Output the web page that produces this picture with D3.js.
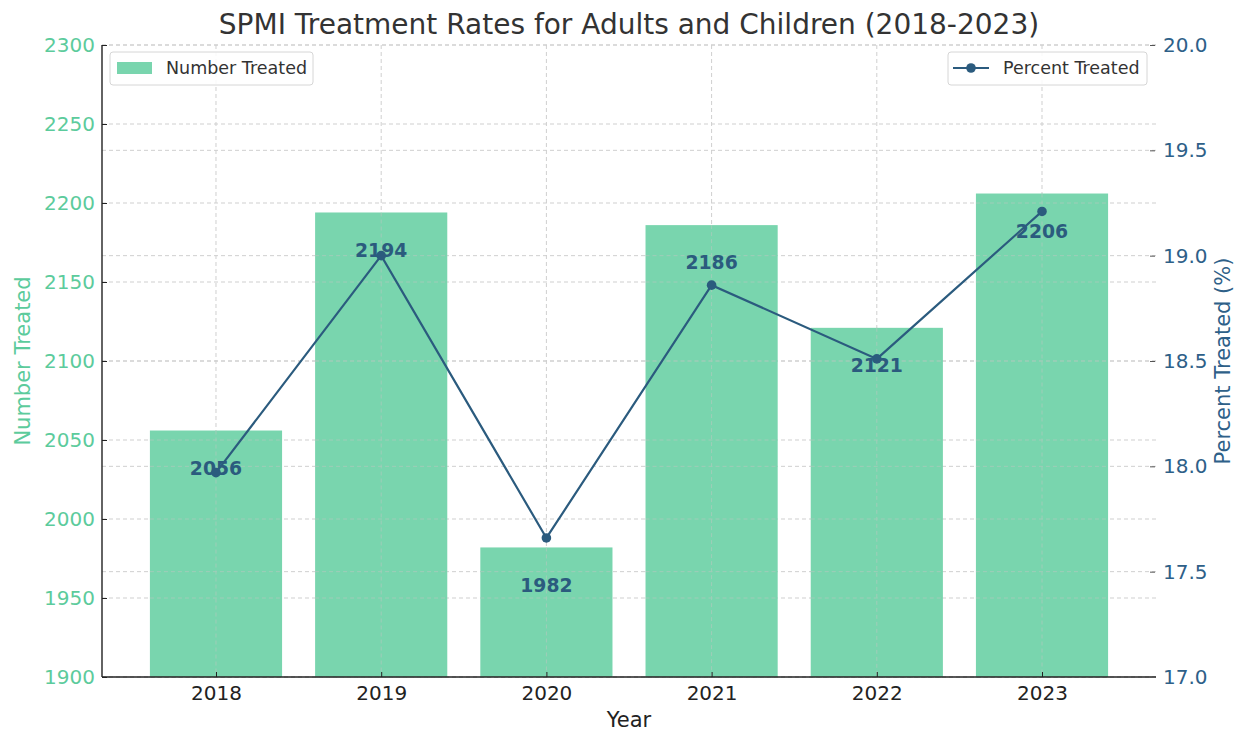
<!DOCTYPE html>
<html>
<head>
<meta charset="utf-8">
<script src="https://cdn.jsdelivr.net/npm/d3@7"></script>
<style>
  body { margin: 0; background: #fff; }
  svg { font-family: "DejaVu Sans", sans-serif; }
</style>
</head>
<body>
<svg id="chart" width="1241" height="732"></svg>
<script>
// Yearly SPMI treatment figures
const years = ["2018", "2019", "2020", "2021", "2022", "2023"];
const numberTreated = [2056, 2194, 1982, 2186, 2121, 2206];
const percentTreated = [17.97, 19.0, 17.66, 18.86, 18.51, 19.21];
const leftTicks = [1900, 1950, 2000, 2050, 2100, 2150, 2200, 2250, 2300];
const rightTicks = [17.0, 17.5, 18.0, 18.5, 19.0, 19.5, 20.0];

const barColor = "#79d5ae";
const leftColor = "#5ccb9c";
const lineColor = "#2b5b7e";
const rightColor = "#2e6088";

const svg = d3.select("#chart");
const m = { left: 102, right: 1156, top: 45, bottom: 677 };

const x = d3.scaleLinear().domain([-0.69, years.length - 1 + 0.69]).range([m.left, m.right]);
const yL = d3.scaleLinear().domain([1900, 2300]).range([m.bottom, m.top]);
const yR = d3.scaleLinear().domain([17, 20]).range([m.bottom, m.top]);
const barW = x(0.8) - x(0);

// grid
const grid = svg.append("g").attr("stroke", "#cfcfcf").attr("stroke-width", 1).attr("stroke-dasharray", "4,3");
leftTicks.forEach(t => grid.append("line").attr("x1", m.left).attr("x2", m.right).attr("y1", yL(t)).attr("y2", yL(t)));
rightTicks.forEach(t => grid.append("line").attr("x1", m.left).attr("x2", m.right).attr("y1", yR(t)).attr("y2", yR(t)));
years.forEach((d, i) => grid.append("line").attr("x1", x(i)).attr("x2", x(i)).attr("y1", m.top).attr("y2", m.bottom));

// bars
svg.append("g").selectAll("rect").data(numberTreated).join("rect")
  .attr("x", (d, i) => x(i) - barW / 2)
  .attr("width", barW)
  .attr("y", d => yL(d))
  .attr("height", d => yL(1900) - yL(d))
  .attr("fill", barColor);

// faint grid showing through the bars
const grid2 = svg.append("g").attr("stroke", "#b9c9c0").attr("stroke-width", 1).attr("stroke-dasharray", "4,3").attr("opacity", 0.6);
years.forEach((d, i) => grid2.append("line").attr("x1", x(i)).attr("x2", x(i)).attr("y1", yL(numberTreated[i])).attr("y2", m.bottom));
leftTicks.forEach(t => {
  numberTreated.forEach((v, i) => {
    if (t < v) grid2.append("line").attr("x1", x(i) - barW / 2).attr("x2", x(i) + barW / 2).attr("y1", yL(t)).attr("y2", yL(t));
  });
});
rightTicks.forEach(t => {
  numberTreated.forEach((v, i) => {
    if (yR(t) > yL(v)) grid2.append("line").attr("x1", x(i) - barW / 2).attr("x2", x(i) + barW / 2).attr("y1", yR(t)).attr("y2", yR(t));
  });
});

// line
const line = d3.line().x((d, i) => x(i)).y(d => yR(d));
svg.append("path").datum(percentTreated).attr("d", line)
  .attr("fill", "none").attr("stroke", lineColor).attr("stroke-width", 2.2);
svg.append("g").selectAll("circle").data(percentTreated).join("circle")
  .attr("cx", (d, i) => x(i)).attr("cy", d => yR(d)).attr("r", 4.8).attr("fill", lineColor);

// value labels
svg.append("g").selectAll("text").data(numberTreated).join("text")
  .attr("x", (d, i) => x(i))
  .attr("y", d => yL(d) + 37.5)
  .attr("dy", "0.35em")
  .attr("text-anchor", "middle")
  .attr("font-weight", "bold")
  .attr("font-size", 18.8)
  .attr("fill", lineColor)
  .text(d => d);

// axes
const xAxis = d3.axisBottom(x).tickValues(d3.range(years.length)).tickFormat(i => years[i]).tickSize(5).tickPadding(4);
const gx = svg.append("g").attr("transform", `translate(0,${m.bottom})`).call(xAxis);
gx.select(".domain").attr("stroke", "#222").attr("stroke-width", 1.4).attr("d", `M${m.left},0H${m.right}`);
gx.selectAll(".tick line").attr("stroke", "#222").attr("transform", "translate(0,-5)");
gx.selectAll("text").attr("font-size", 20).attr("fill", "#222").attr("font-family", "DejaVu Sans");

const gl = svg.append("g").attr("transform", `translate(${m.left},0)`)
  .call(d3.axisLeft(yL).tickValues(leftTicks).tickFormat(d3.format("d")).tickSize(5).tickPadding(2));
gl.select(".domain").attr("stroke", "#222").attr("stroke-width", 1.4).attr("d", `M0,${m.top}V${m.bottom}`);
gl.selectAll(".tick line").attr("stroke", "#222").attr("transform", "translate(5,0)");
gl.selectAll("text").attr("font-size", 20).attr("fill", leftColor).attr("font-family", "DejaVu Sans");

const gr = svg.append("g").attr("transform", `translate(${m.right},0)`)
  .call(d3.axisRight(yR).tickValues(rightTicks).tickFormat(d3.format(".1f")).tickSize(5).tickPadding(2));
gr.select(".domain").remove();
gr.selectAll(".tick line").attr("stroke", "#555").attr("transform", "translate(-6,0)");
gr.selectAll("text").attr("font-size", 20).attr("fill", rightColor).attr("font-family", "DejaVu Sans");

// titles
svg.append("text").attr("x", (m.left + m.right) / 2).attr("y", 34).attr("text-anchor", "middle")
  .attr("font-size", 28).attr("fill", "#333").text("SPMI Treatment Rates for Adults and Children (2018-2023)");
svg.append("text").attr("x", (m.left + m.right) / 2).attr("y", 727).attr("text-anchor", "middle")
  .attr("font-size", 21).attr("fill", "#222").text("Year");
svg.append("text").attr("transform", `translate(30,${(m.top + m.bottom) / 2}) rotate(-90)`).attr("text-anchor", "middle")
  .attr("font-size", 21).attr("fill", leftColor).text("Number Treated");
svg.append("text").attr("transform", `translate(1230,${(m.top + m.bottom) / 2}) rotate(-90)`).attr("text-anchor", "middle")
  .attr("font-size", 21).attr("fill", rightColor).text("Percent Treated (%)");

// legends
const lg1 = svg.append("g").attr("transform", "translate(110,52)");
lg1.append("rect").attr("width", 203).attr("height", 33).attr("rx", 3).attr("fill", "#fff").attr("fill-opacity", 0.85)
  .attr("stroke", "#d6d6d6").attr("stroke-width", 1);
lg1.append("rect").attr("x", 7).attr("y", 10).attr("width", 35).attr("height", 12).attr("fill", barColor);
lg1.append("text").attr("x", 56).attr("y", 22).attr("font-size", 17.5).attr("fill", "#333").text("Number Treated");

const lg2 = svg.append("g").attr("transform", "translate(948,52)");
lg2.append("rect").attr("width", 199).attr("height", 33).attr("rx", 3).attr("fill", "#fff").attr("fill-opacity", 0.85)
  .attr("stroke", "#d6d6d6").attr("stroke-width", 1);
lg2.append("line").attr("x1", 5).attr("x2", 41).attr("y1", 16).attr("y2", 16).attr("stroke", lineColor).attr("stroke-width", 2.2);
lg2.append("circle").attr("cx", 23).attr("cy", 16).attr("r", 4.8).attr("fill", lineColor);
lg2.append("text").attr("x", 55).attr("y", 22).attr("font-size", 17.5).attr("fill", "#333").text("Percent Treated");
</script>
</body>
</html>
